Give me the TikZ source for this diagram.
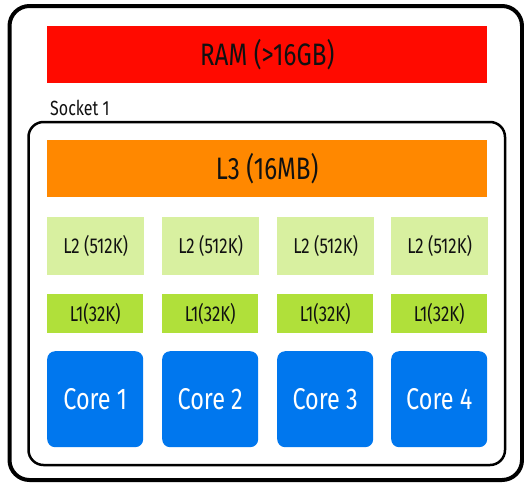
\documentclass[tikz,border=0pt]{standalone}
\usepackage{fontspec}
\setmainfont{Fira Sans}[FakeStretch=0.78]
\definecolor{ramred}{HTML}{FF0A00}
\definecolor{l3orange}{HTML}{FF8800}
\definecolor{l2green}{HTML}{D8F0A0}
\definecolor{l1green}{HTML}{B0E03A}
\definecolor{coreblue}{HTML}{0077EE}
\definecolor{txt}{HTML}{111111}
\begin{document}
\begin{tikzpicture}[x=1pt,y=-1pt,
  bigbar/.style={fill=#1,draw=none,minimum width=440pt,minimum height=57pt,inner sep=0pt,anchor=north west,text=txt,font=\fontsize{31}{32}\selectfont},
  ltwo/.style={fill=l2green,draw=none,minimum width=97pt,minimum height=58pt,inner sep=0pt,anchor=north west,text=txt,font=\fontsize{21.5}{22}\selectfont},
  lone/.style={fill=l1green,draw=none,minimum width=96pt,minimum height=39pt,inner sep=0pt,anchor=north west,text=txt,font=\fontsize{21.5}{22}\selectfont},
  corebox/.style={fill=coreblue,draw=none,rounded corners=8pt,minimum width=96pt,minimum height=96pt,inner sep=0pt,anchor=north west,text=white,font=\fontsize{30}{31}\selectfont},
]
\useasboundingbox (0,0) rectangle (524,485);
\fill[white] (0,0) rectangle (524,485);
\draw[line width=4pt,rounded corners=20pt] (9.5,6) rectangle (522,480);
\draw[line width=2.5pt,rounded corners=15pt] (28.5,122) rectangle (505,465);
\node[bigbar=ramred] (ram) at (47,26) {RAM (>16GB)};
\node[anchor=base west,inner sep=0pt,text=txt,font=\fontsize{20.5}{21}\selectfont] (sock) at (50,115) {Socket 1};
\node[bigbar=l3orange] (l3) at (47,140) {L3 (16MB)};
\foreach \i/\x in {1/47,2/162,3/277,4/391}{
  \node[ltwo] (l2\i) at (\x,217) {L2 (512K)};
  \node[lone] (l1\i) at (\x,294) {L1(32K)};
  \node[corebox] (core\i) at (\x,351) {Core \i};
}
\end{tikzpicture}
\end{document}
